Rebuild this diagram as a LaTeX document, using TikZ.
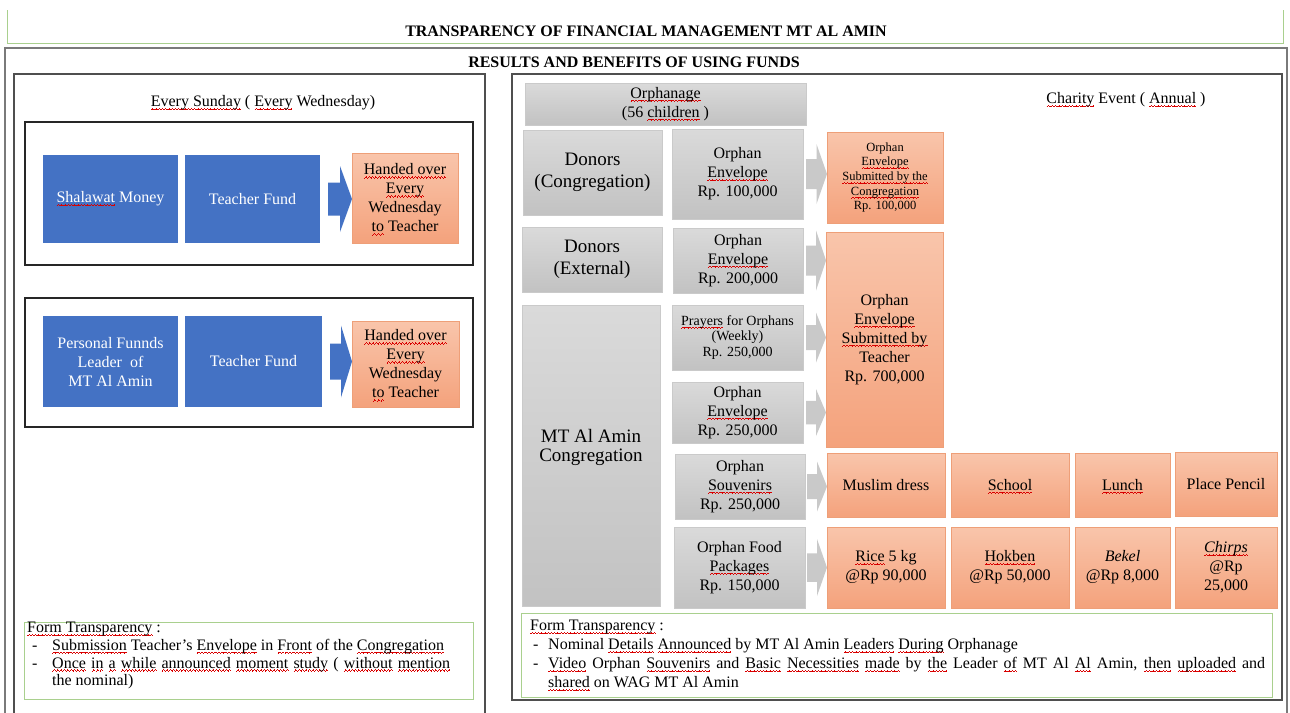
\documentclass[tikz,border=0pt]{standalone}
\usepackage{fontspec}
\setmainfont{Liberation Serif}
\usepackage{xcolor}
\usetikzlibrary{calc}

\definecolor{officeblue}{HTML}{4472C4}
\definecolor{greyTop}{HTML}{DADADA}
\definecolor{greyBot}{HTML}{C2C2C2}
\definecolor{greyEdge}{HTML}{CACACA}
\definecolor{peachTop}{HTML}{F9C5AB}
\definecolor{peachBot}{HTML}{F4A27C}
\definecolor{peachEdge}{HTML}{EE9F78}
\definecolor{frameGreen}{HTML}{A9D08E}
\definecolor{frameGrey}{HTML}{7A7A7A}
\definecolor{panelGrey}{HTML}{4F4F4F}
\definecolor{arrowGrey}{HTML}{C9C9C9}

% red wavy spell-check underline built from tiny rules
\newcommand\waveunit{\rule[0pt]{0.8pt}{0.6pt}\rule[0.6pt]{0.8pt}{0.6pt}\rule[1.2pt]{0.8pt}{0.6pt}\rule[0.6pt]{0.8pt}{0.6pt}}
\newsavebox\sqbox
\newcommand\sq[1]{\sbox\sqbox{#1}\leavevmode\rlap{\raisebox{-3.2pt}[0pt][0pt]{\color{red!85!black}\hbox to \wd\sqbox{\xleaders\hbox{\waveunit}\hfill}}}\usebox\sqbox}

\newcommand\fs[2]{\fontsize{#1}{#2}\selectfont}

% block arrow from the east side of one node to the west side of another
\newcommand\blockarrow[5]{% #1 style, #2 from, #3 to, #4 tail gap, #5 head half-height
  \coordinate (ba-s) at ($(#2.east)+(#4,0)$);
  \coordinate (ba-t) at (#3.west |- #2.east);
  \coordinate (ba-m) at ($(ba-s)!0.5!(ba-t)$);
  \fill[#1] ($(ba-s)+(0,{-0.5*#5})$) -- ($(ba-m)+(0,{-0.5*#5})$) -- ($(ba-m)+(0,{-#5})$)
    -- (ba-t) -- ($(ba-m)+(0,#5)$) -- ($(ba-m)+(0,{0.5*#5})$) -- ($(ba-s)+(0,{0.5*#5})$) -- cycle;}

\tikzset{
  cell/.style={rectangle, inner sep=2pt, outer sep=0pt, align=center, anchor=north west, font=\fs{16}{19}},
  greycell/.style={cell, top color=greyTop, bottom color=greyBot, draw=greyEdge, line width=0.6pt},
  peachcell/.style={cell, top color=peachTop, bottom color=peachBot, draw=peachEdge, line width=0.6pt},
  bluecell/.style={cell, fill=officeblue, text=white},
  heading/.style={font=\fs{16}{19}\bfseries, inner sep=0pt},
  caption/.style={font=\fs{16}{19}, inner sep=0pt},
  panel/.style={draw=panelGrey, line width=1.3pt},
  groupframe/.style={draw=black!85, line width=1.2pt},
  formframe/.style={draw=frameGreen, line width=0.9pt},
  formtext/.style={align=left, inner sep=0pt, anchor=north west},
  bluearrow/.style={fill=officeblue},
  greyarrow/.style={fill=arrowGrey},
}

\begin{document}
\begin{tikzpicture}[x=1pt, y=-1pt]
\useasboundingbox (0,0) rectangle (1290,712);
\fill[white] (0,0) rectangle (1290,712);

% ---------- title bar ----------
\draw[draw=frameGreen, line width=1pt] (7,10) -- (7,43) -- (1283,43) -- (1283,10);
\node[heading] (title) at (646,31) {TRANSPARENCY OF FINANCIAL MANAGEMENT MT AL AMIN};

% ---------- outer frame ----------
\draw[draw=frameGrey, line width=2pt] (5,48) rectangle (1287,740);
\node[heading] (results) at (634,62) {RESULTS AND BENEFITS OF USING FUNDS};

% ---------- left panel: teacher fund ----------
\draw[panel] (14,74) rectangle (485,740);
\node[caption] (sunday) at (263,103) {\sq{Every Sunday} ( \sq{Every} Wednesday)};

\draw[groupframe] (25,122) rectangle (473,265);
\node[bluecell, minimum width=135, minimum height=88] (sm) at (43,155) {\sq{Shalawat} Money};
\node[bluecell, minimum width=135, minimum height=88] (tf1) at (185,155) {Teacher Fund};
\node[peachcell, minimum width=106, minimum height=90] (ho1) at (352,153)
  {\sq{Handed over}\\\sq{Every}\\Wednesday\\\sq{to} Teacher};
\blockarrow{bluearrow}{tf1}{ho1}{8}{33}

\draw[groupframe] (25,298) rectangle (473,427);
\node[bluecell, minimum width=135, minimum height=91] (pf) at (43,316) {Personal Funnds\\Leader\ \ of\\MT Al Amin};
\node[bluecell, minimum width=137, minimum height=91] (tf2) at (185,316) {Teacher Fund};
\node[peachcell, minimum width=107, minimum height=86] (ho2) at (352,321)
  {\sq{Handed over}\\\sq{Every}\\Wednesday\\\sq{to} Teacher};
\blockarrow{bluearrow}{tf2}{ho2}{8}{36}

\draw[formframe] (24,622) rectangle (473,699);
\node[formtext, font=\fs{16}{17.7}] (ftl) at (27,622) {%
  \sq{Form Transparency} :\\
  \makebox[25pt][l]{\hspace{5pt}-}\sq{Submission} Teacher's \sq{Envelope} in \sq{Front} of the \sq{Congregation}\\
  \makebox[25pt][l]{\hspace{5pt}-}\makebox[398pt][s]{\sq{Once} \sq{in} \sq{a} \sq{while} \sq{announced} \sq{moment} \sq{study} ( \sq{without} \sq{mention}}\\
  \hspace*{25pt}the nominal)};

% ---------- right panel: orphanage ----------
\draw[panel] (512,74) rectangle (1282,700);

\node[greycell, minimum width=281, minimum height=42] (orph) at (525,83) {\sq{Orphanage}\\(56 \sq{children} )};
\node[caption] (charity) at (1126,100) {\sq{Charity} Event ( \sq{Annual} )};

\node[greycell, minimum width=139, minimum height=85, font=\fs{19}{22}] (dc) at (523,130) {Donors\\(Congregation)};
\node[greycell, minimum width=131, minimum height=90] (oe1) at (672,129) {Orphan\\\sq{Envelope}\\Rp. 100,000};
\node[peachcell, minimum width=116, minimum height=91, font=\fs{12.5}{14.7}] (osc) at (827,132)
  {Orphan\\\sq{Envelope}\\\sq{Submitted by the}\\\sq{Congregation}\\Rp. 100,000};
\blockarrow{greyarrow}{oe1}{osc}{3}{30}

\node[greycell, minimum width=140, minimum height=65, font=\fs{19}{22}] (de) at (522,227) {Donors\\(External)};
\node[greycell, minimum width=130, minimum height=65] (oe2) at (673,228) {Orphan\\\sq{Envelope}\\Rp. 200,000};
\node[peachcell, minimum width=117, minimum height=215] (ost) at (826,232)
  {Orphan\\\sq{Envelope}\\\sq{Submitted by}\\Teacher\\Rp. 700,000};
\blockarrow{greyarrow}{oe2}{ost}{3}{30}

\node[greycell, minimum width=138, minimum height=301] (mt) at (522,305) {};
\node[caption, font=\fs{19}{19}, align=center] (mtlabel) at (591,447) {MT Al Amin\\Congregation};

\node[greycell, minimum width=131, minimum height=65, font=\fs{14}{15.5}] (pr) at (672,305)
  {\sq{Prayers} for Orphans\\(Weekly)\\Rp. 250,000};
\blockarrow{greyarrow}{pr}{ost}{3}{25}
\node[greycell, minimum width=131, minimum height=61] (oe3) at (672,382) {Orphan\\\sq{Envelope}\\Rp. 250,000};
\blockarrow{greyarrow}{oe3}{ost}{3}{23.5}

\node[greycell, minimum width=130, minimum height=65] (os) at (675,454) {Orphan\\\sq{Souvenirs}\\Rp. 250,000};
\node[peachcell, minimum width=118, minimum height=64] (md) at (827,453) {Muslim dress};
\node[peachcell, minimum width=118, minimum height=64] (sc) at (951,453) {\sq{School}};
\node[peachcell, minimum width=95, minimum height=64] (lu) at (1075,453) {\sq{Lunch}};
\node[peachcell, minimum width=102, minimum height=64] (pp) at (1175,452) {Place Pencil};
\blockarrow{greyarrow}{os}{md}{2}{25}

\node[greycell, minimum width=131, minimum height=81] (of) at (674,527) {Orphan Food\\\sq{Packages}\\Rp. 150,000};
\node[peachcell, minimum width=118, minimum height=81] (ri) at (827,527) {\sq{Rice} 5 kg\\@Rp 90,000};
\node[peachcell, minimum width=118, minimum height=81] (hk) at (951,527) {\sq{Hokben}\\@Rp 50,000};
\node[peachcell, minimum width=95, minimum height=81] (bk) at (1075,527) {\textit{Bekel}\\@Rp 8,000};
\node[peachcell, minimum width=102, minimum height=81] (ch) at (1175,527) {\textit{\sq{Chirps}}\\@Rp\\25,000};
\blockarrow{greyarrow}{of}{ri}{2}{28.5}

\draw[formframe] (521,613) rectangle (1272,697);
\node[formtext, font=\fs{16}{19}] (ftr) at (530,620) {%
  \sq{Form Transparency} :\\
  \makebox[18pt][l]{\hspace{3pt}-}Nominal \sq{Details} \sq{Announced} by MT Al Amin \sq{Leaders} \sq{During} Orphanage\\
  \makebox[18pt][l]{\hspace{3pt}-}\makebox[717pt][s]{\sq{Video} Orphan \sq{Souvenirs} and \sq{Basic} \sq{Necessities} \sq{made} by \sq{the} Leader \sq{of} MT Al \sq{Al} Amin, \sq{then} \sq{uploaded} and}\\
  \hspace*{18pt}\sq{shared} on WAG MT Al Amin};

\end{tikzpicture}
\end{document}
